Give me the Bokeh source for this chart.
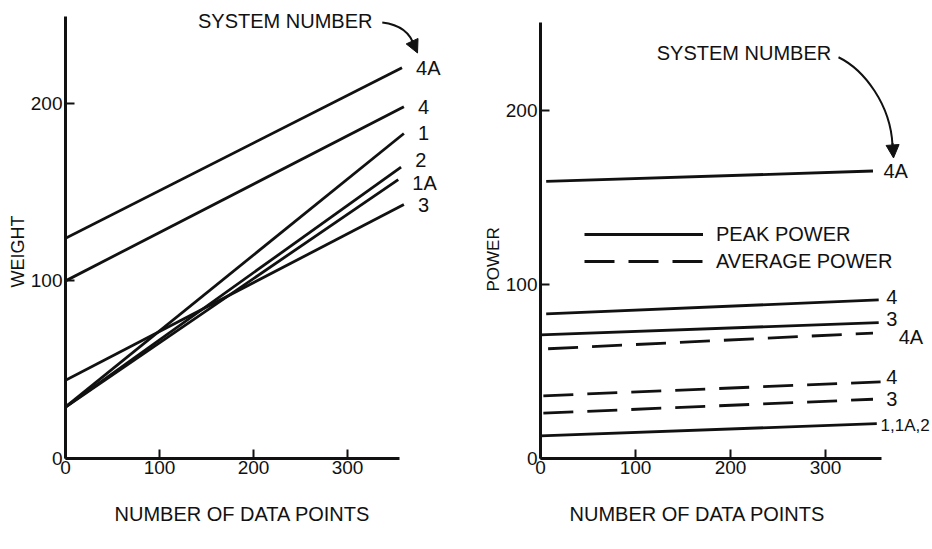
from bokeh.plotting import figure
from bokeh.layouts import row
from bokeh.models import (Range1d, FixedTicker, Legend, LegendItem, Arrow,
                          NormalHead, ColumnDataSource, Label, Title)
from bokeh.core.properties import value
from bokeh.embed import file_html
from bokeh.resources import INLINE

FONT = "Liberation Sans"
INK = "#111111"

# ---------------- data ----------------
x_ticks = [0, 100, 200, 300]
weight_ticks = [0, 100, 200]
power_ticks = [0, 100, 200]

# Left panel: weight vs number of data points
weight_systems = ["4A", "4", "1", "2", "1A", "3"]
weight_x_end = [358, 360, 360, 357, 354, 360]
weight_start = [124, 100, 29, 29, 29, 44]
weight_end = [220, 198, 183, 164, 157, 143]

# Right panel: power vs number of data points
peak_systems = ["4A", "4", "3", "1,1A,2"]
peak_x_start = [6, 6, 0, 0]
peak_x_end = [350, 356, 356, 354]
peak_start = [159, 83, 71, 13]
peak_end = [165, 91, 78, 20]

avg_systems = ["4A", "4", "3"]
avg_x_start = [8, 3, 3]
avg_x_end = [350, 358, 350]
avg_start = [63, 36, 26]
avg_end = [72, 44, 34]

# label nudges (style)
weight_lbl_dx = [15, 15, 15, 15, 15, 15]
weight_lbl_dy = [0, 0, 0, 4, -2, 0]
peak_lbl_dx = [11, 8, 8, 4]
peak_lbl_dy = [0, 1.5, 2, -1]
avg_lbl_dx = [27, 6, 14]
avg_lbl_dy = [-2, 3, 0]
peak_lbl_size = ["20px", "20px", "20px", "17px"]


def style_axes(p, xb, yb):
    for ax in (p.xaxis[0], p.yaxis[0]):
        ax.axis_line_width = 3
        ax.axis_line_color = INK
        ax.major_tick_in = 9
        ax.major_tick_out = 0
        ax.major_tick_line_width = 2
        ax.major_tick_line_color = INK
        ax.minor_tick_line_color = None
        ax.major_label_text_font = FONT
        ax.major_label_text_font_size = "19px"
        ax.major_label_text_color = INK
        ax.axis_label = None
    p.xaxis[0].bounds = xb
    p.yaxis[0].bounds = yb
    p.xaxis[0].major_label_standoff = 2
    p.yaxis[0].major_label_standoff = 3
    p.grid.visible = False
    p.outline_line_color = None


def make_fig(xmax, ymax, bl, bb):
    p = figure(width=466, height=549, x_range=Range1d(0, xmax), y_range=Range1d(0, ymax),
               output_backend="svg", toolbar_location=None,
               min_border_left=bl, min_border_right=0, min_border_top=0,
               min_border_bottom=bb)
    p.background_fill_color = "white"
    p.border_fill_color = "white"
    return p


def text_label(p, x, y, txt, size="20px", align="left", base="middle"):
    p.add_layout(Label(x=x, y=y, text=txt,
                       text_font=FONT, text_font_size=size, text_color=INK,
                       text_align=align, text_baseline=base))


def side_title(p, txt, side, offset, size, standoff):
    p.add_layout(Title(text=txt, align="left", offset=offset,
                       standoff=standoff, text_font=FONT, text_font_size=size,
                       text_font_style="normal", text_color=INK), side)


# ---------------- left: WEIGHT ----------------
pl = make_fig(401 / 0.94, 459 / 1.78, 65, 90)
pl.xaxis[0].ticker = FixedTicker(ticks=x_ticks)
pl.yaxis[0].ticker = FixedTicker(ticks=weight_ticks)
style_axes(pl, (0, 355), (0, 249))

for xe, y0, y1 in zip(weight_x_end, weight_start, weight_end):
    pl.line([0, xe], [y0, y1], line_color=INK, line_width=2.8)

src_w = ColumnDataSource(dict(
    x=[xe + d for xe, d in zip(weight_x_end, weight_lbl_dx)],
    y=[e + d for e, d in zip(weight_end, weight_lbl_dy)],
    t=weight_systems))
pl.text("x", "y", "t", source=src_w, text_font=value(FONT), text_font_size="20px",
        text_color=INK, text_baseline="middle", text_align="left")

text_label(pl, 326.5, 246.6, "SYSTEM NUMBER", align="right")
pl.bezier(x0=[337], y0=[245.5], x1=[371], y1=[232], cx0=[360], cy0=[244],
          cx1=[368], cy1=[238], line_color=INK, line_width=2)
pl.add_layout(Arrow(end=NormalHead(size=13, fill_color=INK, line_color=INK),
                    x_start=370, y_start=233.5, x_end=374.5, y_end=228.3,
                    line_color=INK, line_width=2))

side_title(pl, "WEIGHT", "left", 171, "18px", 0)
side_title(pl, "NUMBER OF DATA POINTS", "below", 49, "20px", 49)

# ---------------- right: POWER ----------------
pr = make_fig(392 / 0.95, 460 / 1.75, 74, 89)
pr.xaxis[0].ticker = FixedTicker(ticks=x_ticks)
pr.yaxis[0].ticker = FixedTicker(ticks=power_ticks)
style_axes(pr, (0, 359), (0, 250))

peak_r = []
for xs, xe, y0, y1 in zip(peak_x_start, peak_x_end, peak_start, peak_end):
    peak_r.append(pr.line([xs, xe], [y0, y1], line_color=INK, line_width=2.8))
avg_r = []
for xs, xe, y0, y1 in zip(avg_x_start, avg_x_end, avg_start, avg_end):
    avg_r.append(pr.line([xs, xe], [y0, y1], line_color=INK, line_width=2.8,
                         line_dash="30 14"))

src_p = ColumnDataSource(dict(
    x=[xe + d for xe, d in zip(peak_x_end, peak_lbl_dx)] +
      [xe + d for xe, d in zip(avg_x_end, avg_lbl_dx)],
    y=[e + d for e, d in zip(peak_end, peak_lbl_dy)] +
      [e + d for e, d in zip(avg_end, avg_lbl_dy)],
    t=peak_systems + avg_systems,
    s=peak_lbl_size + ["20px"] * len(avg_systems)))
pr.text("x", "y", "t", source=src_p, text_font=value(FONT), text_font_size="s",
        text_color=INK, text_baseline="middle", text_align="left")

legend = Legend(items=[LegendItem(label="PEAK POWER", renderers=[peak_r[0]]),
                       LegendItem(label="AVERAGE POWER", renderers=[avg_r[0]])],
                location=(44, 185), padding=0, margin=0, spacing=3,
                glyph_width=119, glyph_height=24, label_height=24,
                label_standoff=13, label_text_font=FONT, label_text_font_size="20px",
                label_text_color=INK, background_fill_alpha=0, border_line_alpha=0)
pr.add_layout(legend)

text_label(pr, 306, 233, "SYSTEM NUMBER", align="right")
pr.bezier(x0=[313.7], y0=[230.3], x1=[370.5], y1=[180], cx0=[341], cy0=[223],
          cx1=[368.4], cy1=[203], line_color=INK, line_width=2)
pr.add_layout(Arrow(end=NormalHead(size=13, fill_color=INK, line_color=INK),
                    x_start=370.5, y_start=181, x_end=371.6, y_end=172.5,
                    line_color=INK, line_width=2))

side_title(pr, "POWER", "left", 167, "17px", 0)
side_title(pr, "NUMBER OF DATA POINTS", "below", 29, "20px", 49)

layout = row(pl, pr, spacing=0)
open("out.html", "w").write(file_html(layout, INLINE))
